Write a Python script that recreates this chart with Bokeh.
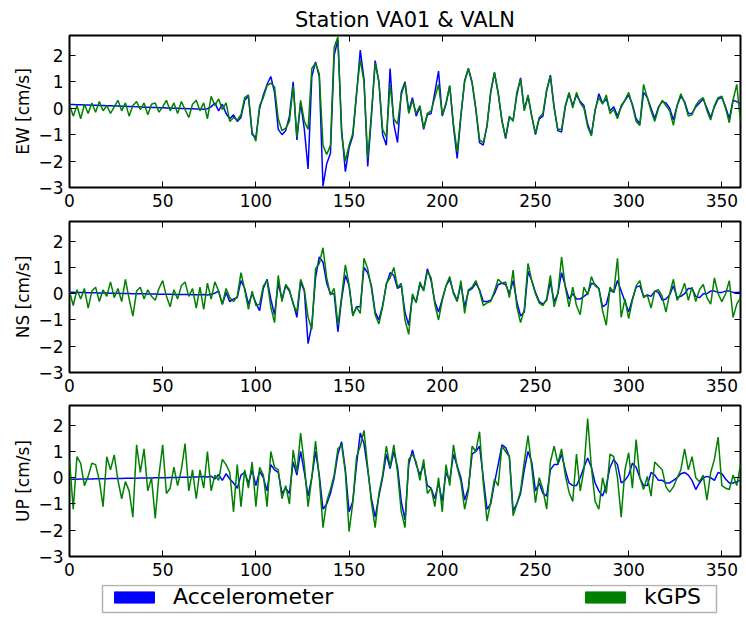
from bokeh.plotting import figure
from bokeh.layouts import column
from bokeh.models import (Range1d, LinearAxis, FixedTicker, Legend, LegendItem,
                          CustomJSTickFormatter, ColumnDataSource, BoxAnnotation)
from bokeh.embed import file_html
from bokeh.resources import INLINE

TITLE = "Station VA01 & VALN"
LABELS = ["EW [cm/s]", "NS [cm/s]", "UP [cm/s]"]
SERIES_NAMES = ["Accelerometer", "kGPS"]
X_TICKS = [0, 50, 100, 150, 200, 250, 300, 350]
Y_TICKS = [-3, -2, -1, 0, 1, 2]
Y_TICK_TEXT = {-3: "\u22123", -2: "\u22122", -1: "\u22121", 0: "0", 1: "1", 2: "2"}

TIME = list(range(0, 361, 2))

EW_ACC = [
    0.14, 0.14, 0.13, 0.13, 0.12, 0.12, 0.11, 0.11, 0.10, 0.10,
    0.09, 0.09, 0.08, 0.08, 0.07, 0.07, 0.06, 0.06, 0.05, 0.05,
    0.04, 0.04, 0.03, 0.03, 0.02, 0.02, 0.01, 0.01, 0.0, 0.0,
    -0.01, -0.01, -0.02, -0.02, -0.03, -0.03, -0.04, -0.02, 0.05, 0.2,
    -0.1, 0.15, -0.2, -0.4, -0.25, -0.5, -0.35, 0.3, 0.45, -1.0,
    -1.1, 0.0, 0.5, 0.9, 1.2, 0.6, -0.8, -1.0, -0.85, -0.3,
    1.0, -1.2, 0.2, -0.8, -2.3, 1.2, 1.75, 1.2, -2.95, -2.1,
    -1.7, 2.0, 2.6, -0.8, -2.4, -1.5, -1.05, 0.5, 2.2, 1.1,
    -2.2, -0.3, 1.8, 1.0, -1.0, -1.4, 1.5, -0.6, -1.3, 0.6,
    1.0, -0.1, 0.4, -0.3, 0.05, -0.8, -0.25, -0.2, 0.6, 1.4,
    -0.3, 0.15, 0.85, -0.7, -1.9, -0.3, 1.05, 1.5, 0.95, -0.05,
    -1.3, -1.4, -0.65, 0.6, 1.35, 0.55, -0.45, -1.15, -0.35, -0.45,
    0.5, 1.15, -0.05, 0.45, -0.3, -1.0, -0.4, -0.3, 0.65, 1.25,
    0.05, -0.85, -0.9, 0.05, 0.55, 0.1, 0.5, 0.25, 0.1, -0.6,
    -1.0, -0.1, 0.55, 0.2, 0.35, -0.1, 0.05, -0.3, 0.05, 0.3,
    0.5, 0.15, -0.4, -0.6, 0.6, 0.4, 0.0, -0.4, 0.05, 0.25,
    0.2, 0.0, -0.45, 0.1, 0.45, 0.25, -0.2, -0.2, 0.05, 0.2,
    0.35, 0.0, -0.35, 0.05, 0.35, 0.4, 0.05, -0.4, 0.3, 0.25,
    0.17,
]
EW_GPS = [
    0.15, -0.3, 0.1, -0.4, 0.15, -0.2, 0.2, -0.15, 0.25, -0.1,
    0.1, -0.2, 0.05, 0.3, -0.1, 0.2, -0.3, 0.1, 0.25, -0.05,
    0.2, -0.25, 0.15, 0.2, -0.15, 0.05, 0.3, -0.1, 0.2, -0.2,
    0.25, -0.05, -0.35, 0.15, 0.3, -0.1, 0.2, -0.4, 0.45, 0.1,
    0.35, -0.05, 0.2, -0.5, -0.35, -0.45, -0.25, 0.4, 0.5, -0.9,
    -1.25, 0.1, 0.4, 0.85, 0.95, 0.8, -0.4, -0.85, -0.75, -0.5,
    0.85, -1.1, 0.3, -0.5, -0.8, 1.5, 1.7, 1.3, -1.4, -1.75,
    -1.4, 2.3, 2.7, -1.0, -2.0, -1.4, -0.95, 0.6, 1.85, 1.0,
    -1.9, -0.2, 1.7, 1.0, -0.8, -1.1, 0.9, -0.4, -0.6, 0.5,
    0.95, -0.2, 0.3, -0.2, 0.1, -0.75, -0.2, -0.1, 0.4, 0.9,
    -0.25, 0.2, 0.85, -0.6, -1.65, -0.25, 1.0, 1.5, 1.0, 0.0,
    -1.2, -1.3, -0.7, 0.65, 1.35, 0.6, -0.5, -1.1, -0.3, -0.5,
    0.6, 1.1, -0.1, 0.5, -0.3, -0.95, -0.35, -0.2, 0.7, 1.2,
    0.0, -0.8, -0.8, 0.1, 0.6, 0.0, 0.6, 0.2, 0.0, -0.7,
    -1.05, -0.05, 0.4, 0.15, 0.5, -0.2, -0.05, -0.4, 0.1, 0.3,
    0.6, 0.1, -0.5, -0.65, 0.9, 0.4, -0.1, -0.5, 0.0, 0.3,
    0.1, -0.1, -0.65, 0.1, 0.55, 0.2, -0.3, -0.25, 0.1, 0.3,
    0.4, -0.1, -0.45, 0.1, 0.4, 0.45, 0.0, -0.55, 0.3, 0.9,
    -0.5,
]
NS_ACC = [
    0.06, 0.06, 0.05, 0.05, 0.05, 0.04, 0.04, 0.04, 0.03, 0.03,
    0.03, 0.02, 0.02, 0.02, 0.01, 0.01, 0.01, 0.0, 0.0, 0.0,
    0.0, -0.01, -0.01, -0.01, -0.02, -0.02, -0.02, -0.02, -0.03, -0.03,
    -0.03, -0.03, -0.03, -0.04, -0.04, -0.04, -0.03, -0.05, -0.02, 0.02,
    0.1, -0.4, 0.05, -0.3, -0.2, -0.15, 0.5, 0.2, -0.4, 0.0,
    -0.35, -0.65, 0.2, 0.55, -0.2, -0.8, 0.4, -0.2, 0.3, 0.1,
    -0.35, -0.9, 0.45, 0.1, -1.9, -1.2, 0.6, 1.4, 1.2, 0.4,
    0.0, 0.0, -1.45, -0.2, 0.7, 0.3, -0.8, -0.5, -0.5, 1.0,
    0.8, 0.3, -0.7, -1.0, -0.45, 0.35, 0.8, 0.7, 0.2, 0.3,
    -0.7, -1.2, -0.1, -0.3, 0.35, 0.15, 0.95, 0.5, -0.3, -0.7,
    -0.2, 0.3, 0.55, 0.05, -0.25, 0.35, -0.5, 0.1, 0.2, 0.4,
    0.15, -0.3, -0.3, -0.25, 0.0, 0.35, 0.4, 0.35, 0.0, 0.5,
    -0.3, -0.85, -0.7, 0.85, 0.5, 0.05, -0.3, -0.4, -0.25, 0.45,
    -0.3, 0.0, 0.8, 0.3, -0.2, 0.0, -0.2, -0.2, -0.1, 0.0,
    0.4, 0.35, 0.2, -0.5, -0.4, 0.15, 0.05, 0.5, 0.1, -0.3,
    -0.7, -0.2, 0.25, 0.3, -0.1, -0.05, -0.1, 0.1, 0.05, -0.25,
    -0.2, -0.05, 0.3, -0.15, -0.1, 0.0, 0.2, 0.2, -0.1, -0.15,
    0.0, 0.0, 0.1, 0.1, 0.05, 0.05, 0.1, 0.1, 0.05, 0.05,
    0.06,
]
NS_GPS = [
    0.1, -0.45, 0.15, -0.2, 0.2, -0.55, 0.1, 0.25, -0.3, 0.15,
    -0.1, 0.45, -0.15, 0.2, -0.3, 0.55, -0.2, -0.85, 0.1, 0.25,
    -0.2, 0.15, -0.1, -0.25, 0.2, 0.5, -0.1, -0.5, 0.15, -0.2,
    0.3, 0.45, -0.1, 0.2, -0.55, 0.25, -0.6, 0.4, -0.2, 0.45,
    0.1, -0.4, 0.2, -0.15, -0.3, -0.1, 0.8, 0.15, -0.6, 0.1,
    -0.45, -0.4, 0.3, 0.5, -0.5, -1.1, 0.7, -0.3, 0.35, 0.15,
    -0.4, -0.7, 0.55, 0.15, -0.9, -1.35, 0.95, 1.15, 1.75, 0.6,
    -0.05, 0.2, -1.2, -0.1, 1.1, 0.35, -0.85, -0.5, -0.75, 1.35,
    0.95, 0.2, -0.8, -1.15, -0.5, 0.4, 0.6, 1.0, 0.25, 0.4,
    -1.0, -1.55, 0.0, -0.35, 0.45, 0.1, 0.85, 0.6, -0.4, -1.0,
    -0.25, 0.3, 0.65, 0.0, -0.3, 0.5, -0.75, 0.15, 0.25, 0.5,
    0.1, -0.45, -0.35, -0.3, 0.1, 0.55, 0.4, 0.45, -0.15, 0.9,
    -0.5, -1.1, -0.6, 1.15, 0.5, 0.0, -0.35, -0.45, -0.2, 0.7,
    -0.5, 0.0, 1.4, 0.25, -0.5, 0.25, -0.45, -0.8, 0.25, -0.05,
    0.65, 0.3, 0.2, -0.65, -1.2, 0.25, 0.05, 1.35, -0.9, -0.2,
    -0.95, -0.25, 0.3, 0.5, -0.15, -0.05, -0.55, 0.1, 0.15, -0.1,
    -0.7, 0.0, 0.55, -0.25, 0.0, 0.4, -0.25, 0.25, -0.3, 0.15,
    0.35, -0.15, -0.4, 0.6, 0.0, -0.3, 0.0, 0.5, -0.9, -0.4,
    -0.15,
]
UP_ACC = [
    -0.06, -0.06, -0.06, -0.05, -0.05, -0.05, -0.05, -0.04, -0.04, -0.04,
    -0.04, -0.03, -0.03, -0.03, -0.03, -0.02, -0.02, -0.02, -0.02, -0.01,
    -0.01, -0.01, -0.01, 0.0, 0.0, 0.0, 0.0, 0.01, 0.01, 0.01,
    0.02, 0.02, 0.02, 0.03, 0.03, 0.04, 0.05, 0.03, 0.06, -0.05,
    0.12, -0.1, 0.15, -0.05, -0.2, -0.4, 0.1, 0.2, -0.2, 0.3,
    -0.3, 0.25, 0.0, -0.5, 0.5, 0.3, 0.2, -0.6, -0.4, -0.6,
    0.6, 0.1, 1.0, 0.2, -0.7, 0.0, 1.0, 0.1, -1.2, -1.0,
    -0.6, 0.0, 0.9, 1.37, 0.3, -1.3, -0.9, 0.5, 1.7, 1.3,
    0.3, -0.8, -1.5, -0.7, 0.0, 0.9, 0.35, 1.0, 0.4, -0.9,
    -1.6, 0.5, 1.06, 0.5, 0.1, 0.5, -0.3, -0.4, -0.8, -0.2,
    -0.9, 0.2, -0.1, 0.9, 0.45, 0.0, -0.85, -0.4, 0.9, 1.0,
    1.2, 0.0, -1.2, -1.0, -0.2, 0.5, 1.25, 1.15, 0.8, -1.25,
    -1.0, -0.6, 0.3, 1.0, 0.6, -0.5, -0.2, -0.6, -0.7, 0.3,
    0.5, 0.5, 0.9, 0.3, -0.2, -0.3, -0.3, 0.0, 0.4, 0.75,
    0.4, -0.2, -0.5, -0.7, -0.3, 0.4, 0.7, 0.5, -0.2, -0.1,
    0.1, 0.55, 0.4, 0.0, -0.3, -0.3, 0.2, 0.1, -0.1, -0.1,
    -0.2, -0.2, -0.1, 0.0, 0.15, 0.2, 0.1, -0.1, -0.45, -0.2,
    0.0, 0.05, 0.0, -0.1, 0.2, 0.15, -0.05, -0.2, -0.2, -0.15,
    -0.1,
]
UP_GPS = [
    0.7, -1.2, 0.8, 0.55, -0.3, 0.05, 0.55, 0.5, -0.1, -1.1,
    0.8, 0.3, 0.87, -0.1, -0.8, -0.15, -0.5, -1.5, 1.25, 0.2,
    1.1, -0.5, 0.0, -1.55, 0.1, 1.25, -0.6, -0.4, 0.4, -0.3,
    0.3, 1.3, -0.5, 0.3, -0.8, 0.3, -0.4, 1.0, -0.5, 0.1,
    -0.1, 0.7, 0.5, 0.2, -1.3, 0.5, -1.1, 0.3, -0.4, 0.6,
    -1.1, 0.4, 0.1, -1.1, 1.0, 0.4, 0.3, -0.8, -0.3, -1.0,
    1.05, 0.2, 1.7, 0.5, -1.1, 0.0, 1.4, 0.0, -1.9, -0.9,
    -0.45, 0.1, 1.1, 1.25, 0.2, -2.05, -0.95, 0.8, 1.2, 1.8,
    0.4, -0.95, -1.9, -0.6, 0.1, 1.2, 0.4, 1.25, 0.2, -1.3,
    -1.9, 0.7, 0.9, 0.6, -0.1, 0.7, -0.6, -0.4, -1.1, 0.0,
    -1.3, 0.5, -0.3, 1.25, 0.4, -0.15, -1.2, -0.5, 1.2, 1.0,
    1.75, -0.2, -1.65, -0.9, -0.05, -0.3, 1.2, 1.0, 0.8, -1.45,
    -1.0, -0.5, 0.6, 1.6, 0.4, -0.95, 0.0, -0.45, -1.2, 0.6,
    1.2, 0.55, 1.1, 0.1, -0.55, -0.9, 0.9, -0.5, 0.3, 2.25,
    0.4, -0.9, -1.2, 0.0, -0.6, 0.9, 0.8, 0.0, -1.5, 0.3,
    0.95, -0.4, 1.45, 0.0, -0.45, 0.05, -0.7, 0.6, 0.45, 0.3,
    -0.35, -0.55, -0.35, 0.0, 0.3, 1.1, 0.3, 0.8, 0.0, -0.15,
    0.1, -0.85, 0.2, 0.7, 1.55, -0.3, -0.4, -0.45, 0.1, -0.3,
    0.5,
]

for arr in (EW_ACC, EW_GPS, NS_ACC, NS_GPS, UP_ACC, UP_GPS):
    assert len(arr) == len(TIME), len(arr)

FONT = "DejaVu Sans"
ACC_COLOR = "#0000ff"
GPS_COLOR = "#008000"
BORDER_L = 69
BORDER_R = 4
FRAME_W = 671
FIG_W = BORDER_L + FRAME_W + BORDER_R


def tick_only_axis():
    ax = LinearAxis(formatter=CustomJSTickFormatter(code="return ''"),
                    major_label_text_font_size="1px", major_label_standoff=0,
                    major_tick_in=6, major_tick_out=0, minor_tick_line_color=None,
                    axis_line_color=None, major_tick_line_color="black",
                    major_tick_line_width=1)
    return ax


def make_panel(label, acc, gps, top, bottom, frame_h, title=None):
    p = figure(width=FIG_W, height=top + frame_h + bottom,
               x_range=Range1d(0, 360), y_range=Range1d(-3, 2.75),
               output_backend="svg", toolbar_location=None,
               min_border_left=BORDER_L, min_border_right=BORDER_R,
               min_border_top=top, min_border_bottom=bottom,
               title=title)
    src = ColumnDataSource(dict(t=TIME, acc=acc, gps=gps))
    p.line("t", "acc", source=src, color=ACC_COLOR, line_width=1.5)
    p.line("t", "gps", source=src, color=GPS_COLOR, line_width=1.5)

    p.xgrid.visible = False
    p.ygrid.visible = False
    p.outline_line_color = "black"
    p.outline_line_width = 2
    p.outline_line_alpha = 1
    p.background_fill_color = "white"
    p.border_fill_color = "white"

    p.xaxis.ticker = FixedTicker(ticks=X_TICKS)
    p.yaxis.ticker = FixedTicker(ticks=Y_TICKS)
    p.yaxis.major_label_overrides = Y_TICK_TEXT
    for ax in (p.xaxis[0], p.yaxis[0]):
        ax.axis_line_color = None
        ax.major_tick_in = 6
        ax.major_tick_out = 0
        ax.minor_tick_line_color = None
        ax.major_tick_line_color = "black"
        ax.major_label_text_font = FONT
        ax.major_label_text_font_size = "17px"
        ax.major_label_text_color = "black"
    p.xaxis.major_label_standoff = 6
    p.yaxis.major_label_standoff = 6
    p.yaxis.axis_label = label
    p.yaxis.axis_label_text_font = FONT
    p.yaxis.axis_label_text_font_size = "17px"
    p.yaxis.axis_label_text_font_style = "normal"
    p.yaxis.axis_label_text_color = "black"
    p.yaxis.axis_label_standoff = 2

    top_ax = tick_only_axis()
    top_ax.ticker = FixedTicker(ticks=X_TICKS)
    p.add_layout(top_ax, "above")
    right_ax = tick_only_axis()
    right_ax.ticker = FixedTicker(ticks=Y_TICKS)
    p.add_layout(right_ax, "right")

    if title is not None:
        p.title.text_font = FONT
        p.title.text_font_size = "21px"
        p.title.text_font_style = "normal"
        p.title.text_color = "black"
        p.title.align = "center"
        p.title.standoff = 7
    return p


p1 = make_panel(LABELS[0], EW_ACC, EW_GPS, 35, 32, 152, title=TITLE)
p2 = make_panel(LABELS[1], NS_ACC, NS_GPS, 2, 31, 151)
p3 = make_panel(LABELS[2], UP_ACC, UP_GPS, 2, 28, 151)

# legend strip: same borders as the panels, ranges in pixels of its frame
LEG_H = 32
pl = figure(width=FIG_W, height=LEG_H, x_range=Range1d(0, FRAME_W), y_range=Range1d(0, LEG_H),
            x_axis_type=None, y_axis_type=None, output_backend="svg",
            toolbar_location=None, min_border_left=BORDER_L, min_border_right=BORDER_R,
            min_border_top=0, min_border_bottom=0)
pl.xgrid.visible = False
pl.ygrid.visible = False
pl.outline_line_color = None
pl.add_layout(BoxAnnotation(left=33, right=647, bottom=4, top=31,
                            fill_alpha=0, line_color="black", line_width=1.5))
nan = float("nan")
r_acc = pl.quad(left=[nan], right=[nan], top=[nan], bottom=[nan],
                fill_color=ACC_COLOR, line_color=ACC_COLOR)
r_gps = pl.quad(left=[nan], right=[nan], top=[nan], bottom=[nan],
                fill_color=GPS_COLOR, line_color=GPS_COLOR)

for name, rend, loc in ((SERIES_NAMES[0], r_acc, (40, 7)), (SERIES_NAMES[1], r_gps, (511, 7))):
    lg = Legend(items=[LegendItem(label=name, renderers=[rend])], location=loc,
                orientation="horizontal", padding=0, margin=0, spacing=0,
                glyph_width=50, glyph_height=14, label_height=20, label_standoff=14,
                label_text_font=FONT, label_text_font_size="22px", label_text_color="black",
                border_line_color=None, background_fill_alpha=0)
    pl.add_layout(lg)

layout = column(p1, p2, p3, pl, spacing=0)
open("out.html", "w").write(file_html(layout, INLINE))
